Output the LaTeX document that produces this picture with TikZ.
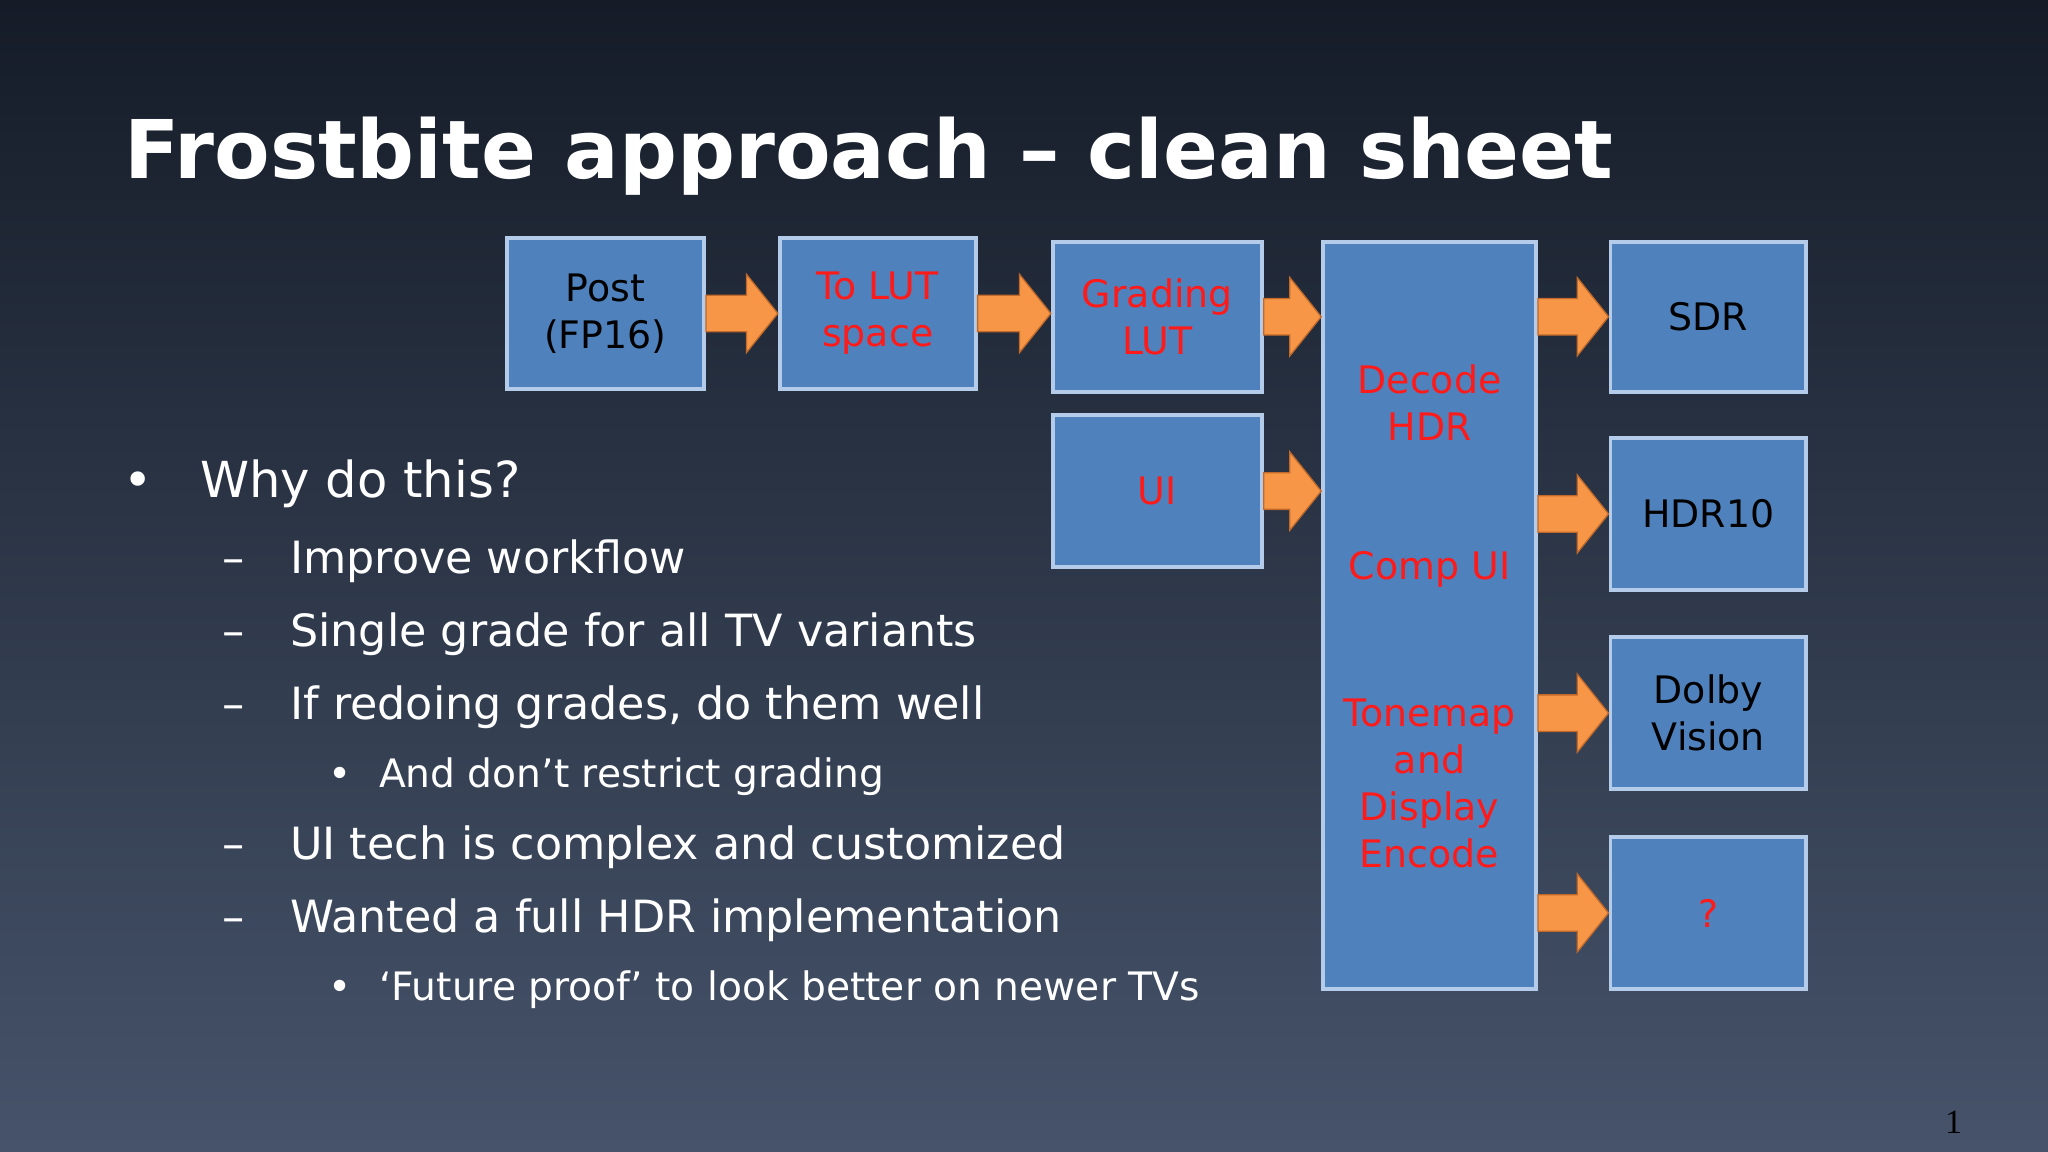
\documentclass[tikz,border=0pt]{standalone}
\usepackage{fontspec}
\setmainfont{DejaVu Sans}
\newfontfamily\numfont{Liberation Serif}
\usetikzlibrary{calc}
\definecolor{boxfill}{HTML}{4F81BD}
\definecolor{boxline}{HTML}{B4CCEA}
\definecolor{arrfill}{HTML}{F79646}
\definecolor{arrline}{HTML}{C0692A}
\definecolor{bgtop}{HTML}{151C28}
\definecolor{bgbot}{HTML}{46536A}
\definecolor{redtxt}{HTML}{FF1A1A}
\tikzset{
 x=1pt,y=-1pt,
 box/.style={draw=boxline,line width=3pt,fill=boxfill,align=center,inner sep=0pt,
   font=\fontsize{29}{36}\selectfont},
 rtxt/.style={text=redtxt},
 btxt/.style={text=black},
 blkarrow/.style={draw=arrline,line width=1pt,fill=arrfill,line join=miter},
 item/.style={anchor=base west,text=white,inner sep=0pt},
}
% block arrow from west point #1 to east point #2 (same height as #1)
\newcommand\blockarrow[2]{%
 \path[blkarrow] let \p1=(#1), \p2=(#2) in
  (\x1,\y1+14pt) -- (\x2-24pt,\y1+14pt) -- (\x2-24pt,\y1+30pt) -- (\x2,\y1)
  -- (\x2-24pt,\y1-30pt) -- (\x2-24pt,\y1-14pt) -- (\x1,\y1-14pt) -- cycle;}
\begin{document}
\begin{tikzpicture}
\shade[top color=bgtop,bottom color=bgbot] (0,0) rectangle (1568,882);
\useasboundingbox (0,0) rectangle (1568,882);
\node[item,font=\bfseries\fontsize{62}{66}\selectfont] (title) at (95,137) {Frostbite approach -- clean sheet};

\node[box,btxt,minimum width=151pt,minimum height=116pt] (post) at (463.5,240) {Post\\(FP16)};
\node[box,rtxt,minimum width=150pt,minimum height=116pt] (lut) at (672,240) {To LUT\\space};
\node[box,rtxt,minimum width=160pt,minimum height=115pt] (grad) at (886,242.5) {Grading\\LUT};
\node[box,rtxt,minimum width=160pt,minimum height=116pt] (ui) at (886,376) {UI};
\node[box,rtxt,minimum width=163pt,minimum height=572pt] (big) at (1094.5,471) {};
\node[rtxt,font=\fontsize{29}{36}\selectfont,align=center] (dec) at (1094.5,308) {Decode\\HDR};
\node[rtxt,font=\fontsize{29}{36}\selectfont,align=center] (comp) at (1094.5,436) {Comp UI};
\node[rtxt,font=\fontsize{29}{36}\selectfont,align=center] (tone) at (1094.5,600) {Tonemap\\and\\Display\\Encode};
\node[box,btxt,minimum width=150pt,minimum height=115pt] (sdr) at (1308,242.5) {SDR};
\node[box,btxt,minimum width=150pt,minimum height=117pt] (hdr) at (1308,393.5) {HDR10};
\node[box,btxt,minimum width=150pt,minimum height=116pt] (dolby) at (1308,546) {Dolby\\Vision};
\node[box,rtxt,minimum width=150pt,minimum height=116pt] (q) at (1308,699) {?};

\blockarrow{post.east}{lut.west}
\blockarrow{lut.east}{grad.west}
\blockarrow{grad.east}{big.west}
\blockarrow{ui.east}{big.west}
\blockarrow{big.east|-sdr.west}{sdr.west}
\blockarrow{big.east|-hdr.west}{hdr.west}
\blockarrow{big.east|-dolby.west}{dolby.west}
\blockarrow{big.east|-q.west}{q.west}

\begin{scope}[font=\fontsize{38}{44}\selectfont]
\node[item] (b0) at (94,381) {•};
\node[item] (t0) at (153,381) {Why do this?};
\end{scope}
\begin{scope}[font=\fontsize{34}{40}\selectfont]
\node[item] (d1) at (170,439) {--};
\node[item] (t1) at (222,439) {Improve workflow};
\node[item] (d2) at (170,495) {--};
\node[item] (t2) at (222,495) {Single grade for all TV variants};
\node[item] (d3) at (170,551) {--};
\node[item] (t3) at (222,551) {If redoing grades, do them well};
\node[item] (d4) at (170,658) {--};
\node[item] (t4) at (222,658) {UI tech is complex and customized};
\node[item] (d5) at (170,714) {--};
\node[item] (t5) at (222,714) {Wanted a full HDR implementation};
\end{scope}
\begin{scope}[font=\fontsize{30}{36}\selectfont]
\node[item] (s1) at (251,603) {•};
\node[item] (u1) at (290,603) {And don’t restrict grading};
\node[item] (s2) at (251,766) {•};
\node[item] (u2) at (290,766) {‘Future proof’ to look better on newer TVs};
\end{scope}
\node[item,text=black,font=\numfont\fontsize{26}{30}\selectfont] (pg) at (1489,868) {1};
\end{tikzpicture}
\end{document}
